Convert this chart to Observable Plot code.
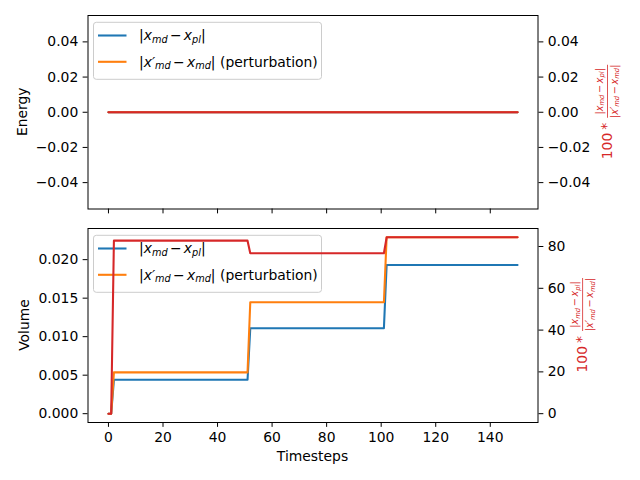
<!DOCTYPE html>
<html><head><meta charset="utf-8">
<script src="https://cdn.jsdelivr.net/npm/d3@7"></script>
<script src="https://cdn.jsdelivr.net/npm/@observablehq/plot@0.6"></script>
<style>
body{margin:0;background:#fff}
#chart{width:640px;height:480px;background:#fff}
#chart svg{display:block}
</style>
</head><body><div id="chart"></div>
<script>
// ---- data ----
const timesteps   = [0, 1, 2, 51, 52, 101, 102, 150];
const energyDiff  = [0, 0, 0, 0, 0, 0, 0, 0];
const energyPert  = [0, 0, 0, 0, 0, 0, 0, 0];
const energyRatio = [0, 0, 0, 0, 0, 0, 0, 0];
const volumeDiff  = [0, 0, 0.0044, 0.0044, 0.0111, 0.0111, 0.0193, 0.0193];
const volumePert  = [0, 0, 0.00536, 0.00536, 0.01447, 0.01447, 0.0229, 0.0229];
const volumeRatio = [0, 0, 82.8, 82.8, 76.8, 76.8, 84.4, 84.4];
const xTicks = [0, 20, 40, 60, 80, 100, 120, 140];
const energyTicks = [-0.04, -0.02, 0, 0.02, 0.04];
const energyRightTicks = [-0.04, -0.02, 0, 0.02, 0.04];
const volumeTicks = [0, 0.005, 0.01, 0.015, 0.02];
const volumeRightTicks = [0, 20, 40, 60, 80];
const yLabels = ["Energy", "Volume"];
const xLabel = "Timesteps";
const legendSuffix = " (perturbation)";

const BLUE = "#1f77b4", ORANGE = "#ff7f0e", RED = "#d62728";
const FS = 13.9;
const FONT = "DejaVu Sans";

function limits(vals) {
  let lo = d3.min(vals), hi = d3.max(vals);
  if (lo === hi) { lo -= 0.05; hi += 0.05; }
  const p = (hi - lo) * 0.05;
  return [lo - p, hi + p];
}

const partsDiff = [{t:"|"},{t:"x",it:1},{t:"md",it:1,sub:1},{t:"\u2006\u2212\u2006"},{t:"x",it:1},{t:"pl",it:1,sub:1},{t:"|"}];
const partsPert = [{t:"|"},{t:"x\u2032",it:1},{t:"md",it:1,sub:1},{t:"\u2006\u2212\u2006"},{t:"x",it:1},{t:"md",it:1,sub:1},{t:"|"}];

function mathText(sel, parts, base, anchor) {
  const text = sel.append("text").attr("font-size", base).attr("style", "white-space:pre")
    .attr("text-anchor", anchor || "start");
  let shift = 0;
  for (const p of parts) {
    const target = p.sub ? 0.2 * base : 0;
    const ts = text.append("tspan").text(p.t)
      .attr("font-size", p.sub ? base * 0.7 : base)
      .attr("font-style", p.it ? "italic" : "normal")
      .attr("dy", target - shift);
    if (p.dx) ts.attr("dx", p.dx * base / FS);
    shift = target;
  }
  return text;
}

function panel(cfg) {
  const rows = timesteps.map((t, i) => ({t, diff: cfg.diff[i], pert: cfg.pert[i], ratio: cfg.ratio[i]}));
  const leftDom = limits(cfg.diff.concat(cfg.pert));
  const rightDom = limits(cfg.ratio);
  const toLeft = d3.scaleLinear().domain(rightDom).range(leftDom);
  const svg = Plot.plot({
    width: 640, height: cfg.height,
    marginTop: cfg.mt, marginBottom: cfg.mb, marginLeft: 87.5, marginRight: 102.5,
    style: {fontFamily: FONT, fontSize: FS + "px", color: "black", background: "white", overflow: "visible"},
    x: {domain: [-7.5, 157.5], label: null},
    y: {domain: leftDom, label: null},
    marks: [
      Plot.lineY(rows, {x: "t", y: "diff", stroke: BLUE, strokeWidth: 2.08}),
      Plot.lineY(rows, {x: "t", y: "pert", stroke: ORANGE, strokeWidth: 2.08}),
      Plot.lineY(rows, {x: "t", y: d => toLeft(d.ratio), stroke: RED, strokeWidth: 2.08, className: "twin-line"}),
      Plot.frame({stroke: "black", strokeWidth: 1}),
      Plot.axisY(cfg.leftTicks, {anchor: "left", tickSize: 4.86, tickPadding: 4.86, tickFormat: cfg.leftFmt, label: null}),
      Plot.axisY(cfg.rightTicks.map(toLeft), {anchor: "right", tickSize: 4.86, tickPadding: 4.86, tickFormat: d => cfg.rightFmt(toLeft.invert(d)), label: null}),
      Plot.axisX(xTicks, {anchor: "bottom", tickSize: 4.86, tickPadding: 4.86, tickFormat: cfg.showX ? d3.format("d") : () => "", label: null})
    ]
  });
  const s = d3.select(svg);
  const frameTop = cfg.mt;
  const frameMid = (cfg.mt + cfg.height - cfg.mb) / 2;
  // legend (belongs to the primary axes; twin-axis line is drawn over it)
  const lg = s.append("g").attr("font-family", FONT);
  lg.append("rect").attr("x", 93.5).attr("y", frameTop + 7.3).attr("width", 228).attr("height", 57)
    .attr("rx", 2.8).attr("fill", "white").attr("fill-opacity", 0.8).attr("stroke", "#cccccc").attr("stroke-width", 1);
  const e1 = frameTop + 7.3 + 13.2, e2 = frameTop + 7.3 + 39.5;
  lg.append("line").attr("x1", 98).attr("x2", 126.5).attr("y1", e1).attr("y2", e1).attr("stroke", BLUE).attr("stroke-width", 2.08);
  lg.append("line").attr("x1", 98).attr("x2", 126.5).attr("y1", e2).attr("y2", e2).attr("stroke", ORANGE).attr("stroke-width", 2.08);
  mathText(lg, partsDiff, FS).attr("x", 139).attr("y", e1 + 4.8).attr("fill", "black");
  mathText(lg, partsPert.concat([{t: legendSuffix}]), FS).attr("x", 139).attr("y", e2 + 4.8).attr("fill", "black");
  s.selectAll(".twin-line").raise();
  // left y label
  s.append("text").attr("transform", `translate(${cfg.yLabelX},${frameMid}) rotate(-90)`)
    .attr("text-anchor", "middle").attr("font-family", FONT).attr("font-size", FS).attr("fill", "black").text(cfg.yLabel);
  // right y label (fraction)
  const g = s.append("g").attr("transform", `translate(${cfg.rLabelX},${frameMid}) rotate(-90)`)
    .attr("fill", RED).attr("font-family", FONT);
  g.append("text").attr("x", -47.5).attr("y", 4.5).attr("font-size", FS).attr("text-anchor", "start").text("100");
  g.append("text").attr("x", -14.5).attr("y", 3.8).attr("text-anchor", "middle").attr("font-size", FS).text("*");
  g.append("line").attr("x1", -6).attr("x2", 47).attr("y1", 0).attr("y2", 0).attr("stroke", RED).attr("stroke-width", 0.8);
  mathText(g, partsDiff, 9.7, "middle").attr("x", 20.5).attr("y", -5);
  mathText(g, partsPert, 9.7, "middle").attr("x", 20.5).attr("y", 10);
  if (cfg.showX) {
    s.append("text").attr("x", 312.5).attr("y", cfg.height - 19).attr("text-anchor", "middle")
      .attr("font-family", FONT).attr("font-size", FS).attr("fill", "black").text(xLabel);
  }
  return svg;
}

const chart = document.getElementById("chart");
chart.appendChild(panel({
  height: 220, mt: 15, mb: 11.5,
  diff: energyDiff, pert: energyPert, ratio: energyRatio,
  leftTicks: energyTicks, leftFmt: d3.format(".2f"),
  rightTicks: energyRightTicks, rightFmt: d3.format(".2f"),
  showX: false, yLabel: yLabels[0], yLabelX: 26.5, rLabelX: 607.5
}));
chart.appendChild(panel({
  height: 260, mt: 8, mb: 58,
  diff: volumeDiff, pert: volumePert, ratio: volumeRatio,
  leftTicks: volumeTicks, leftFmt: d3.format(".3f"),
  rightTicks: volumeRightTicks, rightFmt: d3.format("d"),
  showX: true, yLabel: yLabels[1], yLabelX: 29.3, rLabelX: 582.6
}));
</script>
</body></html>
